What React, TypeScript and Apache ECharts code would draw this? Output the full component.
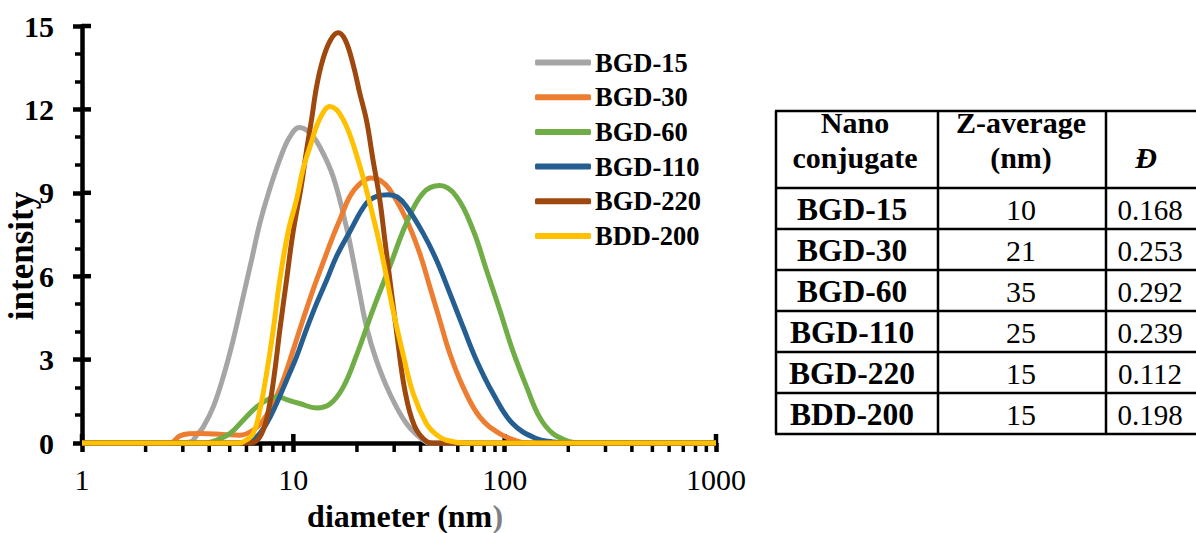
import React, { useEffect, useRef } from 'react';
import * as echarts from 'echarts';

const seriesNames = ['BGD-15', 'BGD-30', 'BGD-60', 'BGD-110', 'BGD-220', 'BDD-200'];
const seriesColors = ['#A5A5A5', '#ED7D31', '#70AD47', '#255E91', '#9E480E', '#FFC000'];

const bgd15 = [[1, 0], [3.0, 0], [3.3, 0.05], [3.49, 0.28], [3.75, 0.58], [4.18, 1.3], [4.66, 2.38], [5.19, 3.7], [5.79, 5.27], [6.35, 6.6], [6.94, 7.9], [7.6, 8.95], [8.63, 10.2], [9.6, 11.0], [10.7, 11.35], [12.0, 11.15], [13.3, 10.67], [15.4, 9.6], [17.8, 7.79], [19.2, 6.59], [20.6, 5.39], [22.2, 4.18], [24.7, 2.98], [28.6, 1.78], [34.3, 0.7], [41.1, 0.1], [44, 0], [1000, 0]];
const bgd30 = [[1, 0], [2.6, 0], [2.9, 0.25], [3.2, 0.33], [3.61, 0.34], [4.64, 0.31], [5.58, 0.28], [6.45, 0.46], [7.2, 0.82], [8.03, 1.42], [8.95, 2.26], [9.98, 3.34], [11.1, 4.43], [12.4, 5.51], [13.8, 6.47], [15.4, 7.43], [16.6, 8.03], [18.5, 8.87], [20.8, 9.35], [23.4, 9.53], [25.8, 9.45], [28.6, 9.11], [34.3, 8.03], [39.6, 6.83], [44.2, 5.63], [49.3, 4.42], [55.0, 3.22], [63.5, 2.02], [76.2, 0.94], [94.7, 0.34], [118, 0.04], [130, 0], [1000, 0]];
const bgd60 = [[1, 0], [3.8, 0], [4.33, 0.1], [5.01, 0.34], [5.79, 0.82], [6.7, 1.3], [7.74, 1.6], [8.47, 1.66], [9.29, 1.56], [10.7, 1.42], [12.9, 1.26], [14.9, 1.4], [17.2, 2.0], [19.9, 3.15], [23.8, 4.79], [28.6, 6.35], [34.3, 7.91], [41.1, 8.99], [49.3, 9.26], [59.1, 8.87], [70.8, 7.67], [81.9, 6.23], [94.7, 4.79], [109, 3.34], [127, 2.02], [146, 0.94], [169, 0.34], [203, 0.05], [230, 0], [1000, 0]];
const bgd110 = [[1, 0], [5.8, 0], [6.0, 0.02], [6.7, 0.22], [7.47, 0.7], [8.33, 1.42], [9.29, 2.26], [10.35, 3.1], [11.5, 4.06], [12.9, 5.03], [14.4, 5.87], [16.0, 6.71], [18.5, 7.6], [22.2, 8.63], [25, 8.88], [28.1, 8.93], [31, 8.85], [34.3, 8.51], [41.1, 7.55], [47.5, 6.59], [55.0, 5.39], [63.5, 4.18], [73.5, 2.98], [88.1, 1.78], [109, 0.7], [141, 0.16], [169, 0.04], [190, 0], [1000, 0]];
const bgd220 = [[1, 0], [6.0, 0], [6.58, 0.04], [7.2, 0.46], [7.74, 1.42], [8.18, 2.62], [8.63, 4.06], [9.29, 5.87], [9.98, 7.6], [10.9, 9.23], [11.5, 10.44], [12.2, 11.64], [12.9, 12.84], [13.8, 13.8], [15.0, 14.5], [16.3, 14.76], [17.6, 14.5], [19.2, 13.6], [20.6, 12.6], [22.2, 11.6], [23.8, 10.2], [25.6, 8.8], [27.1, 7.3], [28.6, 5.9], [30.8, 4.0], [33.7, 1.9], [37.5, 0.6], [42.8, 0.05], [46, 0], [1000, 0]];
const bdd200 = [[1, 0], [5.5, 0], [5.79, 0.04], [6.45, 0.34], [6.94, 1.18], [7.47, 2.5], [8.03, 4.06], [8.63, 5.87], [9.45, 7.6], [10.35, 8.75], [11.1, 9.83], [12.0, 10.67], [13.3, 11.64], [14.9, 12.1], [17.2, 11.64], [20.2, 10.2], [23.4, 8.4], [26.4, 6.7], [29.6, 4.79], [33.0, 3.22], [36.9, 1.78], [42.6, 0.7], [47.5, 0.3], [53.0, 0.1], [65.9, 0], [1000, 0]];
const seriesData = [bgd15, bgd30, bgd60, bgd110, bgd220, bdd200];

const xMajorTicks = [1, 10, 100, 1000];
const xMinorTicks = [2, 3, 4, 5, 6, 7, 8, 9, 20, 30, 40, 50, 60, 70, 80, 90, 200, 300, 400, 500, 600, 700, 800, 900];
const yMajorTicks = [0, 3, 6, 9, 12, 15];

const yAxisTitle = 'intensity';
const tableHeader1 = ['Nano', 'Z-average', ''];
const tableHeader2 = ['conjugate', '(nm)', 'Đ'];
const tableNames = ['BGD-15', 'BGD-30', 'BGD-60', 'BGD-110', 'BGD-220', 'BDD-200'];
const zAverages = ['10', '21', '35', '25', '15', '15'];
const dispersity = ['0.168', '0.253', '0.292', '0.239', '0.112', '0.198'];

const SERIF = "'Liberation Serif', 'Times New Roman', serif";

export default function App() {
  const ref = useRef<HTMLDivElement>(null);
  useEffect(() => {
    if (!ref.current) return;
    const chart = echarts.init(ref.current, undefined, { renderer: 'svg' });

    const tickData: number[][] = [];
    xMinorTicks.forEach((v) => tickData.push([v, 0, 0]));
    xMajorTicks.forEach((v) => tickData.push([v, 0, 1]));
    yMajorTicks.forEach((v) => tickData.push([1, v, 2]));

    // table geometry
    const colX = [776, 938, 1106, 1196];
    const rowY = [111, 188, 229, 270, 311, 352, 393, 434];
    const colC = [855, 1021, 1150];
    const graphics: any[] = [];
    rowY.forEach((y) => graphics.push({ type: 'line', shape: { x1: colX[0] - 1, y1: y, x2: 1200, y2: y }, style: { stroke: '#000', lineWidth: 2.5 } }));
    colX.slice(0, 3).forEach((x) => graphics.push({ type: 'line', shape: { x1: x, y1: rowY[0], x2: x, y2: rowY[rowY.length - 1] }, style: { stroke: '#000', lineWidth: 2.5 } }));
    const addText = (text: string, x: number, y: number, font: string) =>
      graphics.push({ type: 'text', x, y, style: { text, font, fill: '#000', textAlign: 'center', textVerticalAlign: 'middle' } });
    tableHeader1.forEach((t, i) => t && addText(t, colC[i], 122, `bold 30px ${SERIF}`));
    tableHeader2.forEach((t, i) => addText(t, i === 2 ? 1146 : colC[i], 157, i === 2 ? `italic bold 30px ${SERIF}` : `bold 30px ${SERIF}`));
    tableNames.forEach((t, r) => {
      const yc = (rowY[r + 1] + rowY[r + 2]) / 2 + 1;
      addText(t, 852, yc, `bold 31.5px ${SERIF}`);
      addText(zAverages[r], colC[1], yc, `30px ${SERIF}`);
      addText(dispersity[r], colC[2], yc, `29px ${SERIF}`);
    });
    // y-axis title (rotated)
    graphics.push({
      type: 'text',
      x: 21,
      y: 256,
      rotation: Math.PI / 2,
      z: 10,
      style: { text: yAxisTitle, font: `bold 35px ${SERIF}`, fill: '#000', textAlign: 'center', textVerticalAlign: 'middle' },
    });

    const option: any = {
      animation: false,
      backgroundColor: '#fff',
      grid: { left: 82, right: 480, top: 26, bottom: 90, outerBoundsMode: 'none', containLabel: false },
      legend: {
        orient: 'vertical',
        left: 530,
        top: 44,
        itemWidth: 56,
        itemHeight: 6,
        itemGap: 7.7,
        icon: 'roundRect',
        data: seriesNames,
        textStyle: { fontFamily: SERIF, fontWeight: 'bold', fontSize: 26.5, color: '#000', lineHeight: 26, padding: [0, 0, 0, -1] },
      },
      xAxis: {
        type: 'log',
        logBase: 10,
        min: 1,
        max: 1000,
        axisLine: { show: true, onZero: false, lineStyle: { color: '#000', width: 4.5 } },
        axisTick: { show: true, length: 9, lineStyle: { color: '#000', width: 4.5 } },
        splitLine: { show: false },
        axisLabel: { fontFamily: SERIF, fontSize: 30, color: '#000', margin: 21, formatter: (v: number) => String(v) },
        name: '{a|diameter (nm}{b|)}',
        nameLocation: 'middle',
        nameGap: 57,
        nameTextStyle: {
          padding: [0, 0, 0, 12],
          rich: {
            a: { fontFamily: SERIF, fontWeight: 'bold', fontSize: 32, color: '#000' },
            b: { fontFamily: SERIF, fontWeight: 'bold', fontSize: 32, color: '#7f7f7f' },
          },
        },
      },
      yAxis: {
        type: 'value',
        min: 0,
        max: 15,
        interval: 3,
        axisLine: { show: true, lineStyle: { color: '#000', width: 4.5 } },
        axisTick: { show: true, length: 9, lineStyle: { color: '#000', width: 4.5 } },
        minorTick: { show: true, splitNumber: 3, length: 7, lineStyle: { color: '#000', width: 3.5 } },
        splitLine: { show: false },
        axisLabel: { fontFamily: SERIF, fontWeight: 'bold', fontSize: 30, color: '#000', margin: 28 },
      },
      series: [
        ...seriesNames.map((name, i) => ({
          name,
          type: 'line',
          data: seriesData[i],
          smooth: 0.4,
          showSymbol: false,
          symbol: 'none',
          clip: false,
          z: 3 + i,
          lineStyle: { color: seriesColors[i], width: 5 },
          itemStyle: { color: seriesColors[i] },
        })),
        {
          type: 'custom',
          name: 'ticks',
          data: tickData,
          clip: false,
          z: 2,
          silent: true,
          renderItem: (params: any, api: any) => {
            const kind = api.value(2);
            const p = api.coord([api.value(0), api.value(1)]);
            let shape;
            if (kind === 0) shape = { x1: p[0], y1: p[1], x2: p[0], y2: p[1] + 9 };
            else if (kind === 1) shape = { x1: p[0], y1: p[1], x2: p[0], y2: p[1] - 9 };
            else shape = { x1: p[0], y1: p[1], x2: p[0] + 9, y2: p[1] };
            return { type: 'line', shape, style: { stroke: '#000', lineWidth: kind === 0 ? 3.5 : 4.5 } };
          },
        },
      ],
      graphic: graphics,
    };
    chart.setOption(option);
    return () => chart.dispose();
  }, []);
  return <div ref={ref} style={{ position: 'fixed', left: 0, top: 0, width: 1196, height: 533, background: '#fff' }} />;
}
